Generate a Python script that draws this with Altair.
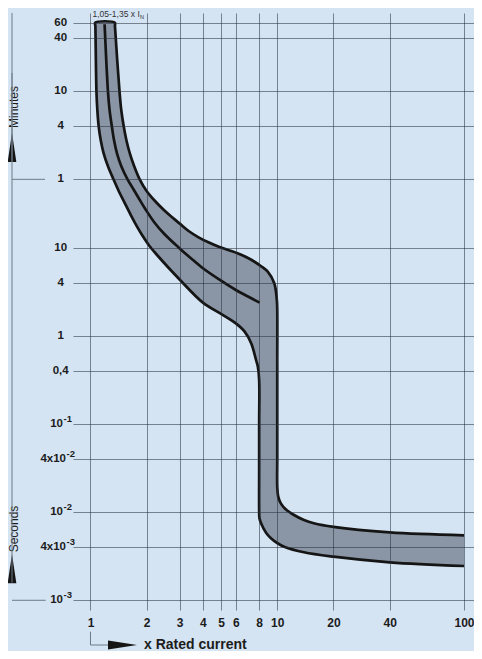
import altair as alt
import pandas as pd

# ---- data (x = multiple of rated current, s = seconds) ----
upper_x = [1.35, 1.352, 1.43, 1.461, 1.506, 1.556, 1.624, 1.716, 1.834, 1.993, 2.203, 2.472, 2.725, 2.994,
           3.353, 3.79, 4.28, 4.83, 5.46, 6.17, 6.97, 7.59, 8.16, 8.89, 9.64, 9.95, 10.0, 10.0, 10.0, 10.0,
           10.0, 10.12, 10.45, 11.1, 12.3, 13.9, 15.7, 20.0, 40.0, 100.0]
upper_s = [3600, 3300, 600, 368, 240, 168, 118.5, 84, 60, 44.6, 34.5, 26.9, 22.4, 19.0,
           15.55, 13.19, 11.58, 10.37, 9.47, 8.64, 7.68, 6.92, 6.23, 5.37, 3.97, 2.56, 1.97, 0.5, 0.1, 0.04,
           0.0195, 0.0150, 0.0126, 0.0108, 0.0093, 0.00815, 0.00748, 0.0068, 0.0059, 0.00547]

lower_x = [1.06, 1.062, 1.076, 1.088, 1.106, 1.134, 1.176, 1.242, 1.328, 1.420, 1.528, 1.644, 1.769, 1.903,
           2.059, 2.284, 2.61, 3.0, 4.0, 5.0, 6.0, 6.69, 7.25, 7.7, 7.87, 8.0, 8.0, 8.0, 8.0, 8.03, 8.19,
           8.71, 9.25, 10.04, 10.89, 13.9, 20.0, 40.0, 100.0]
lower_s = [3600, 3300, 600, 368, 240, 168, 118.5, 84, 60, 43.7, 32.1, 23.6, 17.7, 13.65,
           10.65, 8.20, 5.99, 4.38, 2.39, 1.78, 1.39, 1.12, 0.826, 0.534, 0.449, 0.317, 0.1, 0.03, 0.0106,
           0.00853, 0.00748, 0.00585, 0.00506, 0.00444, 0.00406, 0.00351, 0.00313, 0.0027, 0.00245]

mid_x = [1.19, 1.24, 1.265, 1.301, 1.336, 1.386, 1.464, 1.579, 1.695, 1.823, 1.973, 2.189, 2.472, 2.95,
         3.436, 4.0, 5.0, 6.0, 6.97, 8.05]
mid_s = [3450, 600, 368, 240, 168, 118.5, 84, 60, 46.6, 35.9, 27.3, 19.7, 14.57, 10.2,
         7.68, 5.87, 4.24, 3.33, 2.81, 2.39]

x_ticks = [1, 2, 3, 4, 5, 6, 8, 10, 20, 40, 100]
x_tick_labels = ["1", "2", "3", "4", "5", "6", "8", "10", "20", "40", "100"]

y_ticks = [3600, 2400, 600, 240, 60, 10, 4, 1, 0.4, 0.1, 0.04, 0.01, 0.004, 0.001]
# plain y labels (minutes above, seconds below)
y_plain_vals = [3600, 2400, 600, 240, 60, 10, 4, 1, 0.4]
y_plain_text = ["60", "40", "10", "4", "1", "10", "4", "1", "0,4"]
# power-of-ten y labels: base + superscript
y_pow_vals = [0.1, 0.04, 0.01, 0.004, 0.001]
y_pow_base = ["10", "4x10", "10", "4x10", "10"]
y_pow_sup = ["-1", "-2", "-2", "-3", "-3"]

BG = "#d5e4f3"
BAND = "#8a96a5"
INK = "#151515"
LABEL = "#1c1c1c"
FONT = "Liberation Sans"

# closed outline: upper curve (bottom-right -> top), then lower curve (top -> bottom-right)
ox = list(reversed(upper_x)) + lower_x
os_ = list(reversed(upper_s)) + lower_s
band = pd.DataFrame({"x": ox, "s": os_, "i": list(range(len(ox)))})
mid = pd.DataFrame({"x": mid_x, "s": mid_s, "i": list(range(len(mid_x)))})
plain = pd.DataFrame({"s": y_plain_vals, "t": y_plain_text})
powl = pd.DataFrame({"s": y_pow_vals, "b": y_pow_base, "p": y_pow_sup})
one = pd.DataFrame({"a": [0]})


def lab_expr(vals, labels):
    return ("[" + ",".join("'" + t + "'" for t in labels) + "][indexof(["
            + ",".join(repr(v) for v in vals) + "], datum.value)]")


xscale = alt.Scale(type="log", domain=[0.806, 113.1], nice=False, zero=False)
yscale = alt.Scale(type="log", domain=[0.000776, 4637], nice=False, zero=False)

grid_common = dict(grid=True, gridColor="#26303c", gridOpacity=0.55, gridWidth=1,
                   ticks=False, domain=False, title=None, labelOverlap=False,
                   labelFont=FONT, labelFontWeight="bold", labelColor=LABEL,
                   labelFlush=False, zindex=1)

xaxis = alt.Axis(values=x_ticks, labelExpr=lab_expr(x_ticks, x_tick_labels),
                 labelFontSize=12, labelPadding=7, orient="bottom", **grid_common)
yaxis = alt.Axis(values=y_ticks, labels=False, orient="left", **grid_common)

band_layer = alt.Chart(band).mark_line(
    fill=BAND, stroke=INK, strokeWidth=2.7, strokeJoin="round", interpolate="catmull-rom"
).encode(
    x=alt.X("x:Q", scale=xscale, axis=xaxis),
    y=alt.Y("s:Q", scale=yscale, axis=yaxis),
    order=alt.Order("i:Q"),
)

mid_layer = alt.Chart(mid).mark_line(stroke=INK, strokeWidth=2.7, strokeCap="butt",
                                     interpolate="catmull-rom").encode(
    x=alt.X("x:Q"), y=alt.Y("s:Q"), order=alt.Order("i:Q"))

# y labels as text through the y scale
plain_lab = alt.Chart(plain).mark_text(font=FONT, fontSize=11.5, fontWeight="bold", color=LABEL,
                                       align="center", baseline="middle").encode(
    x=alt.value(-12.3), y=alt.Y("s:Q"), text="t:N")
pow_base_10 = alt.Chart(powl).transform_filter(alt.datum.b == "10").mark_text(
    font=FONT, fontSize=11.5, fontWeight="bold", color=LABEL, align="right", baseline="middle").encode(
    x=alt.value(-10), y=alt.Y("s:Q"), text="b:N")
pow_base_4 = alt.Chart(powl).transform_filter(alt.datum.b != "10").mark_text(
    font=FONT, fontSize=11.5, fontWeight="bold", color=LABEL, align="right", baseline="middle").encode(
    x=alt.value(-7), y=alt.Y("s:Q"), text="b:N")
pow_sup_10 = alt.Chart(powl).transform_filter(alt.datum.b == "10").mark_text(
    font=FONT, fontSize=9.5, fontWeight="bold", color=LABEL, align="left", baseline="middle",
    dx=0.5, dy=-5).encode(x=alt.value(-10), y=alt.Y("s:Q"), text="p:N")
pow_sup_4 = alt.Chart(powl).transform_filter(alt.datum.b != "10").mark_text(
    font=FONT, fontSize=9.5, fontWeight="bold", color=LABEL, align="left", baseline="middle",
    dx=0.5, dy=-5).encode(x=alt.value(-7), y=alt.Y("s:Q"), text="p:N")

GUIDE = "#6f7a86"
base = alt.Chart(one)

# "Minutes" marker
min_text = base.mark_text(text="Minutes", angle=270, font=FONT, fontSize=12, color=LABEL,
                          baseline="middle", align="center").encode(x=alt.value(-58.8), y=alt.value(94))
min_arrow = base.mark_point(shape="M0,-1L0.3,1L-0.3,1Z", filled=True, size=841, color=INK,
                            opacity=1).encode(x=alt.value(-61), y=alt.value(134.5))
min_v = base.mark_rule(color=GUIDE, strokeWidth=1).encode(
    x=alt.value(-61), y=alt.value(148.7), y2=alt.datum(60))
min_h = base.mark_rule(color=GUIDE, strokeWidth=1).encode(
    x=alt.value(-61), x2=alt.value(-28), y=alt.datum(60))

# "Seconds" marker
sec_text = base.mark_text(text="Seconds", angle=270, font=FONT, fontSize=12, color=LABEL,
                          baseline="middle", align="center").encode(x=alt.value(-58.8), y=alt.value(516))
sec_arrow = base.mark_point(shape="M0,-1L0.3,1L-0.3,1Z", filled=True, size=841, color=INK,
                            opacity=1).encode(x=alt.value(-61), y=alt.value(555.8))
sec_v = base.mark_rule(color=GUIDE, strokeWidth=1).encode(
    x=alt.value(-61), y=alt.value(569.7), y2=alt.datum(0.001))
sec_h = base.mark_rule(color=GUIDE, strokeWidth=1).encode(
    x=alt.value(-61), x2=alt.value(-27.3), y=alt.datum(0.001))

# "x Rated current" marker
cur_v = base.mark_rule(color=GUIDE, strokeWidth=1).encode(
    x=alt.datum(1), y=alt.value(618.7), y2=alt.value(632))
cur_h = base.mark_rule(color=GUIDE, strokeWidth=1).encode(
    x=alt.datum(1), x2=alt.value(35), y=alt.value(632))
cur_arrow = base.mark_point(shape="M1,0L-1,0.31L-1,-0.31Z", filled=True, size=841, color=INK,
                            opacity=1).encode(x=alt.value(49.5), y=alt.value(632))
cur_text = base.mark_text(text="x Rated current", font=FONT, fontSize=14, fontWeight="bold",
                          color=LABEL, align="left", baseline="middle").encode(
    x=alt.value(71), y=alt.value(632))

# "1,05-1,35 x I_N" label
in_text = base.mark_text(text="1,05-1,35 x I", font=FONT, fontSize=8.5, color="#333333",
                         align="left", baseline="alphabetic", dx=2).encode(
    x=alt.datum(1), y=alt.value(3.8))
in_sub = base.mark_text(text="N", font=FONT, fontSize=5.5, color="#333333",
                        align="left", baseline="alphabetic", dx=49.6).encode(
    x=alt.datum(1), y=alt.value(5.6))

chart = alt.layer(
    band_layer, mid_layer,
    plain_lab, pow_base_10, pow_base_4, pow_sup_10, pow_sup_4,
    min_text, min_arrow, min_v, min_h,
    sec_text, sec_arrow, sec_v, sec_h,
    cur_v, cur_h, cur_arrow, cur_text,
    in_text, in_sub,
).properties(
    width=401, height=597,
    autosize=alt.AutoSizeParams(type="none"),
    padding={"left": 65, "top": 5, "right": 0, "bottom": 41},
    background=BG,
).configure_view(stroke=None, fill=BG)

chart.save("out.html", embed_options={"renderer": "svg", "actions": False})
